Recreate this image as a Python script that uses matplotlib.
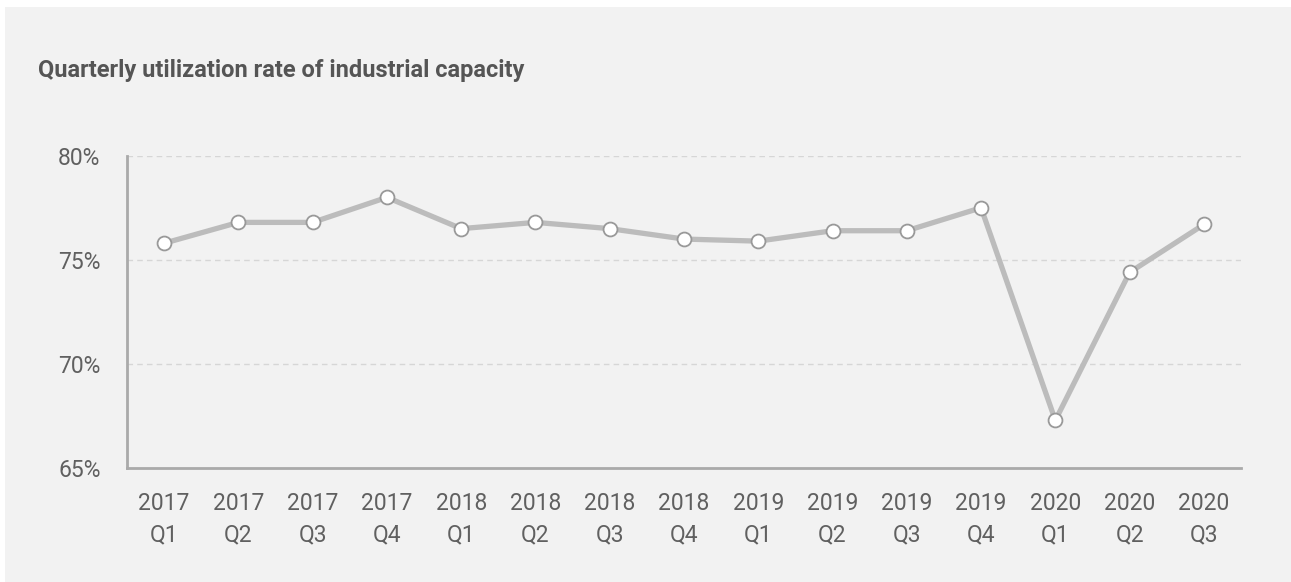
import matplotlib
matplotlib.use("Agg")
import matplotlib.pyplot as plt
from matplotlib.patches import Rectangle
from matplotlib.ticker import FuncFormatter

quarters = ["2017\nQ1", "2017\nQ2", "2017\nQ3", "2017\nQ4",
            "2018\nQ1", "2018\nQ2", "2018\nQ3", "2018\nQ4",
            "2019\nQ1", "2019\nQ2", "2019\nQ3", "2019\nQ4",
            "2020\nQ1", "2020\nQ2", "2020\nQ3"]
utilization = [75.8, 76.8, 76.8, 78.0,
               76.5, 76.8, 76.5, 76.0,
               75.9, 76.4, 76.4, 77.5,
               67.3, 74.4, 76.7]
y_ticks = [65, 70, 75, 80]

bg = "#f2f2f2"
text_col = "#606060"

plt.rcParams["font.family"] = ["Roboto", "DejaVu Sans"]

fig = plt.figure(figsize=(12.91, 5.82), dpi=100)
fig.patch.set_facecolor("white")
# grey card behind everything
fig.patches.append(Rectangle((5 / 1291, 0), 1, 1 - 7 / 582,
                             transform=fig.transFigure, facecolor=bg,
                             edgecolor="none", zorder=-5))

ax = fig.add_axes([127 / 1291, 1 - 468.3 / 582, (1241 - 127) / 1291, (468.3 - 155.7) / 582])
ax.set_zorder(2)
ax.patch.set_visible(False)

x = range(len(quarters))
ax.plot(x, utilization, color="#bcbcbc", lw=3.8, zorder=3,
        marker="o", ms=10, mfc="white", mec="#999999", mew=1.3, clip_on=False)

ax.set_xlim(-0.5, len(quarters) - 0.5)
ax.set_ylim(65, 80)
ax.set_yticks(y_ticks)
ax.yaxis.set_major_formatter(FuncFormatter(lambda v, _: f"{v:.0f}%"))
ax.set_xticks(list(x))
ax.set_xticklabels(quarters, linespacing=1.45)

for v in y_ticks[1:]:
    ax.axhline(v, color="#d6d6d6", lw=1, ls=(0, (4, 3)), zorder=1)

for side in ("top", "right"):
    ax.spines[side].set_visible(False)
for side in ("left", "bottom"):
    ax.spines[side].set_color("#aaaaaa")
    ax.spines[side].set_linewidth(2)

ax.tick_params(axis="both", length=0, labelsize=16.5, labelcolor=text_col)
ax.tick_params(axis="y", pad=19)
ax.tick_params(axis="x", pad=17)

fig.text(38 / 1291, 1 - 77 / 582, "Quarterly utilization rate of industrial capacity",
         fontsize=17, fontweight="bold", color="#555555", ha="left", va="baseline")

fig.savefig("out.png", dpi=100, facecolor=fig.get_facecolor())
